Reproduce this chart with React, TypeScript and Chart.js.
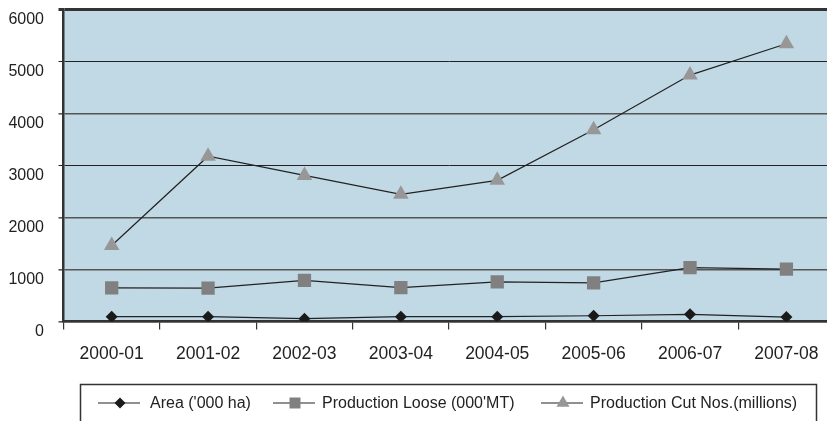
import React, { useEffect, useRef } from "react";
import { Chart, registerables } from "chart.js";

Chart.register(...registerables);

const categories = ["2000-01", "2001-02", "2002-03", "2003-04", "2004-05", "2005-06", "2006-07", "2007-08"];
const areaValues = [92, 92, 55, 92, 92, 111, 137, 86];
const looseValues = [646, 640, 792, 652, 760, 741, 1034, 1008];
const cutValues = [1460, 3177, 2809, 2446, 2714, 3687, 4737, 5340];
const yTicks = [0, 1000, 2000, 3000, 4000, 5000, 6000];
const seriesLabels = ["Area ('000 ha)", "Production Loose (000'MT)", "Production Cut Nos.(millions)"];

const FONT = "'Liberation Sans', Arial, sans-serif";
const LINE = "#222222";

function drawMarker(ctx: CanvasRenderingContext2D, style: string, x: number, y: number, r: number, color: string) {
  ctx.save();
  ctx.fillStyle = color;
  ctx.beginPath();
  if (style === "rectRot") {
    ctx.moveTo(x - r, y);
    ctx.lineTo(x, y - r);
    ctx.lineTo(x + r, y);
    ctx.lineTo(x, y + r);
  } else if (style === "rect") {
    ctx.rect(x - r, y - r, 2 * r, 2 * r);
  } else {
    ctx.moveTo(x, y - r);
    ctx.lineTo(x + r * 0.866, y + r * 0.5);
    ctx.lineTo(x - r * 0.866, y + r * 0.5);
  }
  ctx.closePath();
  ctx.fill();
  ctx.restore();
}

const plotBg = {
  id: "plotBg",
  beforeDraw(chart: any) {
    const { ctx, chartArea } = chart;
    ctx.save();
    ctx.fillStyle = "#c1d9e5";
    ctx.fillRect(chartArea.left, chartArea.top, chartArea.right - chartArea.left, chartArea.bottom - chartArea.top);
    ctx.restore();
  },
};

const legendStarts = [98, 273, 541];

const customLegend = {
  id: "customLegend",
  afterDraw(chart: any) {
    const ctx: CanvasRenderingContext2D = chart.ctx;
    ctx.save();
    ctx.strokeStyle = "#333333";
    ctx.lineWidth = 1.5;
    ctx.strokeRect(80.5, 384.5, 736, 80);
    ctx.font = `16px ${FONT}`;
    ctx.textBaseline = "alphabetic";
    const lineY = 403;
    const legendSizes = [5.5, 5.5, 7.5];
    chart.data.datasets.forEach((ds: any, i: number) => {
      const x = legendStarts[i];
      ctx.strokeStyle = LINE;
      ctx.lineWidth = 1.2;
      ctx.beginPath();
      ctx.moveTo(x, lineY);
      ctx.lineTo(x + 42, lineY);
      ctx.stroke();
      drawMarker(ctx, ds.pointStyle, x + 22, lineY, legendSizes[i], ds.pointBackgroundColor);
      ctx.fillStyle = "#222222";
      ctx.fillText(ds.label, x + (i === 0 ? 52 : 49), 408);
    });
    ctx.restore();
  },
};

export default function App() {
  const ref = useRef<HTMLCanvasElement | null>(null);
  useEffect(() => {
    if (!ref.current) return;
    const gridColor = (c: any) => {
      const v = c.tick ? c.tick.value : 0;
      if (v === 6000) return "#333333";
      if (v === 5000 || v === 3000) return "#222222";
      return "#555555";
    };
    const gridWidth = (c: any) => {
      const v = c.tick ? c.tick.value : 0;
      if (v === 6000) return 3;
      if (v === 5000 || v === 3000) return 1;
      return 1.6;
    };
    const chart = new Chart(ref.current, {
      type: "line",
      data: {
        labels: categories,
        datasets: [
          {
            label: seriesLabels[0],
            data: areaValues,
            borderColor: LINE,
            borderWidth: 1.2,
            pointStyle: "rectRot",
            pointRadius: 6,
            pointBackgroundColor: "#1a1a1a",
            pointBorderColor: "#1a1a1a",
            pointBorderWidth: 0,
            tension: 0,
          },
          {
            label: seriesLabels[1],
            data: looseValues,
            borderColor: LINE,
            borderWidth: 1.2,
            pointStyle: "rect",
            pointRadius: 9.4,
            pointBackgroundColor: "#808080",
            pointBorderColor: "#808080",
            pointBorderWidth: 0,
            tension: 0,
          },
          {
            label: seriesLabels[2],
            data: cutValues,
            borderColor: LINE,
            borderWidth: 1.2,
            pointStyle: "triangle",
            pointRadius: 9,
            pointBackgroundColor: "#979797",
            pointBorderColor: "#979797",
            pointBorderWidth: 0,
            tension: 0,
          },
        ] as any,
      },
      options: {
        animation: false,
        responsive: false,
        devicePixelRatio: 1,
        layout: { padding: { top: 7.3, right: 4.8, bottom: 0, left: 0 } },
        plugins: { legend: { display: false }, tooltip: { enabled: false } },
        scales: {
          x: {
            type: "category",
            offset: true,
            grid: { display: true, drawOnChartArea: false, drawTicks: true, tickLength: 8, offset: true, color: "#333333", lineWidth: 1.2 },
            border: { display: true, color: "#333333", width: 2.5 },
            ticks: { color: "#222222", font: { family: FONT, size: 17.5 }, padding: 14, maxRotation: 0, autoSkip: false },
            afterFit: (s: any) => {
              s.height = 440 - 321.5;
              s.paddingLeft = 0;
              s.paddingRight = 0;
              s.paddingTop = 0;
              s.paddingBottom = 0;
            },
          },
          y: {
            min: 0,
            max: 6000,
            afterBuildTicks: (s: any) => { s.ticks = yTicks.map((v) => ({ value: v })); },
            grid: { color: gridColor, lineWidth: gridWidth, drawTicks: true, tickLength: 5 },
            border: { display: true, color: "#333333", width: 2.5 },
            ticks: {
              color: "#222222",
              font: { family: FONT, size: 16 },
              padding: 14.5,
              labelOffset: 10,
              callback: (v: any) => String(v),
            },
            afterFit: (s: any) => {
              s.width = 63.5;
              s.paddingLeft = 0;
              s.paddingRight = 0;
              s.paddingTop = 0;
              s.paddingBottom = 0;
            },
          },
        },
      },
      plugins: [plotBg, customLegend],
    });
    return () => chart.destroy();
  }, []);
  return (
    <div style={{ position: "fixed", left: 0, top: 0, width: 827, height: 421, overflow: "hidden", background: "#fff" }}>
      <canvas ref={ref} width={844} height={440} style={{ width: 844, height: 440, display: "block" }} />
    </div>
  );
}
